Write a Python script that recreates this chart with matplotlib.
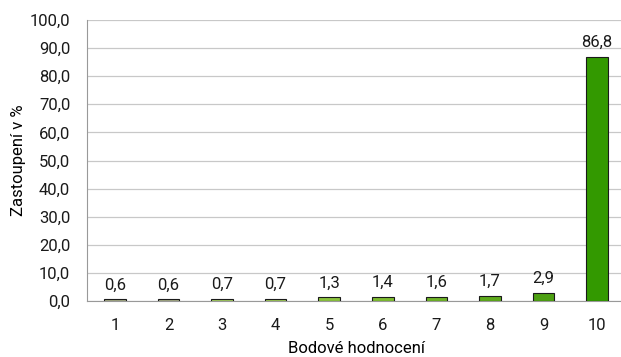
import matplotlib
matplotlib.use("Agg")
import matplotlib.pyplot as plt

categories = ["1", "2", "3", "4", "5", "6", "7", "8", "9", "10"]
values = [0.6, 0.6, 0.7, 0.7, 1.3, 1.4, 1.6, 1.7, 2.9, 86.8]
colors = ["#a8ae88", "#a8ae88", "#a6cf62", "#a0cc58", "#8cc43e", "#7fbd32",
          "#6fb428", "#5eaa1c", "#4da012", "#339900"]
yticks = [0, 10, 20, 30, 40, 50, 60, 70, 80, 90, 100]

plt.rcParams['font.family'] = ['Roboto', 'DejaVu Sans']
fs = 12
fig = plt.figure(figsize=(6.21, 3.57), dpi=100)
left, right = 87, 625
ax = fig.add_axes([left/621, 1 - 301/357, (right-left)/621, (301-20)/357])

x = range(len(categories))
ax.bar(x, values, width=0.40, color=colors, edgecolor="#1a1a1a", linewidth=0.8, zorder=3)
for xi, v in zip(x, values):
    ax.annotate(f"{v:.1f}".replace(".", ","), (xi, v), xytext=(0, 5), textcoords="offset points",
                ha="center", va="bottom", fontsize=fs, color="#1a1a1a")

ax.set_xlim(-0.52, len(categories) - 0.48)
ax.set_ylim(0, 100)
ax.set_yticks(yticks)
ax.set_yticklabels([f"{t:.1f}".replace(".", ",") for t in yticks], fontsize=fs)
ax.set_xticks(list(x))
ax.set_xticklabels(categories, fontsize=fs)
ax.tick_params(axis="y", length=0, pad=12, colors="#1a1a1a")
ax.tick_params(axis="x", length=0, pad=12, colors="#1a1a1a")
ax.yaxis.grid(True, color="#c8c8c8", linewidth=0.9, zorder=0)
for s in ["top", "right"]:
    ax.spines[s].set_visible(False)
ax.spines["left"].set_color("#999999")
ax.spines["bottom"].set_color("#999999")
ax.set_xlabel("Bodové hodnocení", fontsize=fs, labelpad=6)
ax.set_ylabel("Zastoupení v %", fontsize=fs, labelpad=3)

fig.savefig("out.png", dpi=100)
